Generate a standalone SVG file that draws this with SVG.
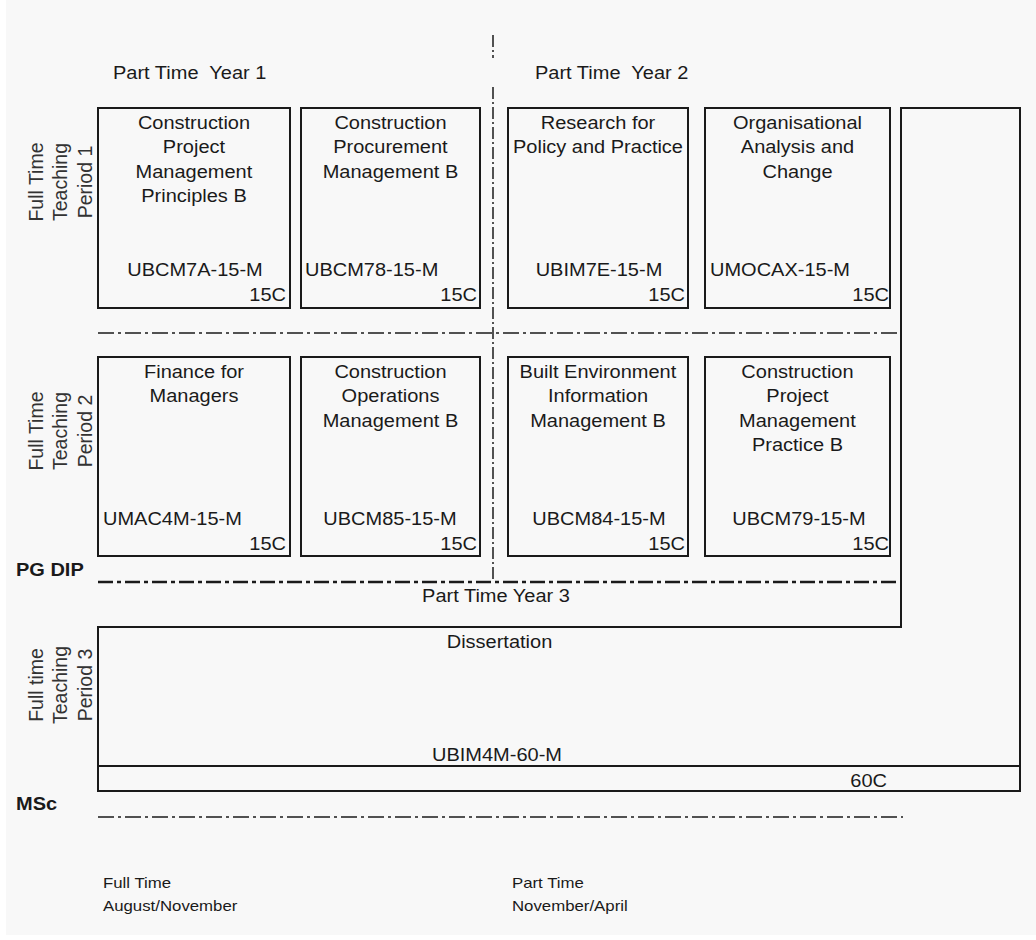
<svg xmlns="http://www.w3.org/2000/svg" width="1036" height="940" viewBox="0 0 1036 940">
<style>
.bx{fill:none;stroke:#1a1a1a;stroke-width:2}
.t{font-family:"Liberation Sans",Arial,sans-serif;font-size:17.5px;fill:#1a1a1a;transform-box:fill-box;transform:scaleX(1.143)}
.b{font-weight:bold}
.m{text-anchor:middle;transform-origin:50% 50%}
.s{text-anchor:start;transform-origin:0% 50%}
.e{text-anchor:end;transform-origin:100% 50%}
.sm{font-family:"Liberation Sans",Arial,sans-serif;font-size:14px;fill:#1a1a1a;text-anchor:start;transform-box:fill-box;transform-origin:0% 50%;transform:scaleX(1.2)}
.v{font-family:"Liberation Sans",Arial,sans-serif;font-size:19.5px;fill:#333;text-anchor:middle}
.dd{fill:none;stroke:#1a1a1a;stroke-width:1.5;stroke-dasharray:16 4 3 4}
.dv{fill:none;stroke:#1a1a1a;stroke-width:1.5;stroke-dasharray:12 3 2 3}
.dp{fill:none;stroke:#1a1a1a;stroke-width:2.5;stroke-dasharray:15 4 4 4}
</style>
<rect x="0" y="0" width="1036" height="940" fill="#ffffff"/>
<rect x="6" y="0" width="1030" height="935" fill="#f8f8f8"/>

<g id="headings">
<text class="t s" x="113" y="79" xml:space="preserve">Part Time  Year 1</text>
<text class="t s" x="535" y="79" xml:space="preserve">Part Time  Year 2</text>
<text class="t m" x="496" y="602">Part Time Year 3</text>
<text class="t b s" x="16" y="576">PG DIP</text>
<text class="t b s" x="16" y="810">MSc</text>
<text class="sm" x="103" y="888">Full Time</text>
<text class="sm" x="103" y="911">August/November</text>
<text class="sm" x="512" y="888">Part Time</text>
<text class="sm" x="512" y="911">November/April</text>
</g>

<g id="period-labels">
<text class="v" x="42.5" y="182" transform="rotate(-90 42.5 182)">Full Time</text>
<text class="v" x="67" y="182" transform="rotate(-90 67 182)">Teaching</text>
<text class="v" x="91.5" y="182" transform="rotate(-90 91.5 182)">Period 1</text>
<text class="v" x="42.5" y="431" transform="rotate(-90 42.5 431)">Full Time</text>
<text class="v" x="67" y="431" transform="rotate(-90 67 431)">Teaching</text>
<text class="v" x="91.5" y="431" transform="rotate(-90 91.5 431)">Period 2</text>
<text class="v" x="42.5" y="685" transform="rotate(-90 42.5 685)">Full time</text>
<text class="v" x="67" y="685" transform="rotate(-90 67 685)">Teaching</text>
<text class="v" x="91.5" y="685" transform="rotate(-90 91.5 685)">Period 3</text>
</g>

<g id="connectors">
<line class="dv" x1="493" y1="35" x2="493" y2="58"/>
<line class="dv" x1="493" y1="87" x2="493" y2="582"/>
<line class="dd" x1="98" y1="333" x2="901" y2="333"/>
<line class="dp" x1="98" y1="582" x2="902" y2="582"/>
<line class="dd" x1="98" y1="817" x2="903" y2="817"/>
</g>

<g id="UBCM7A">
<rect class="bx" x="98" y="108" width="192" height="200"/>
<text class="t m" x="194" y="129">Construction</text>
<text class="t m" x="194" y="153.5">Project</text>
<text class="t m" x="194" y="178">Management</text>
<text class="t m" x="194" y="202.5">Principles B</text>
<text class="t m" x="195" y="276">UBCM7A-15-M</text>
<text class="t e" x="286" y="301">15C</text>
</g>

<g id="UBCM78">
<rect class="bx" x="301" y="108" width="179" height="200"/>
<text class="t m" x="390.5" y="129">Construction</text>
<text class="t m" x="390.5" y="153.5">Procurement</text>
<text class="t m" x="390.5" y="178">Management B</text>
<text class="t s" x="305" y="276">UBCM78-15-M</text>
<text class="t e" x="477" y="301">15C</text>
</g>

<g id="UBIM7E">
<rect class="bx" x="508" y="108" width="180" height="200"/>
<text class="t m" x="598" y="129">Research for</text>
<text class="t m" x="598" y="153.5">Policy and Practice</text>
<text class="t m" x="599" y="276">UBIM7E-15-M</text>
<text class="t e" x="685" y="301">15C</text>
</g>

<g id="UMOCAX">
<rect class="bx" x="705" y="108" width="185" height="200"/>
<text class="t m" x="797.5" y="129">Organisational</text>
<text class="t m" x="797.5" y="153.5">Analysis and</text>
<text class="t m" x="797.5" y="178">Change</text>
<text class="t s" x="710" y="276">UMOCAX-15-M</text>
<text class="t e" x="889" y="301">15C</text>
</g>

<g id="UMAC4M">
<rect class="bx" x="98" y="357" width="192" height="199"/>
<text class="t m" x="194" y="378">Finance for</text>
<text class="t m" x="194" y="402.5">Managers</text>
<text class="t s" x="103" y="525">UMAC4M-15-M</text>
<text class="t e" x="286" y="550">15C</text>
</g>

<g id="UBCM85">
<rect class="bx" x="301" y="357" width="179" height="199"/>
<text class="t m" x="390.5" y="378">Construction</text>
<text class="t m" x="390.5" y="402.5">Operations</text>
<text class="t m" x="390.5" y="427">Management B</text>
<text class="t m" x="390" y="525">UBCM85-15-M</text>
<text class="t e" x="477" y="550">15C</text>
</g>

<g id="UBCM84">
<rect class="bx" x="508" y="357" width="180" height="199"/>
<text class="t m" x="598" y="378">Built Environment</text>
<text class="t m" x="598" y="402.5">Information</text>
<text class="t m" x="598" y="427">Management B</text>
<text class="t m" x="599" y="525">UBCM84-15-M</text>
<text class="t e" x="685" y="550">15C</text>
</g>

<g id="UBCM79">
<rect class="bx" x="705" y="357" width="185" height="199"/>
<text class="t m" x="797.5" y="378">Construction</text>
<text class="t m" x="797.5" y="402.5">Project</text>
<text class="t m" x="797.5" y="427">Management</text>
<text class="t m" x="797.5" y="451.5">Practice B</text>
<text class="t m" x="799" y="525">UBCM79-15-M</text>
<text class="t e" x="889" y="550">15C</text>
</g>

<g id="UBIM4M">
<path class="bx" d="M901 108 H1020 V791 H98 V627 H901 Z"/>
<line class="bx" x1="98" y1="766" x2="1020" y2="766"/>
<text class="t m" x="499.5" y="648">Dissertation</text>
<text class="t m" x="497" y="761">UBIM4M-60-M</text>
<text class="t e" x="887" y="787">60C</text>
</g>
</svg>
